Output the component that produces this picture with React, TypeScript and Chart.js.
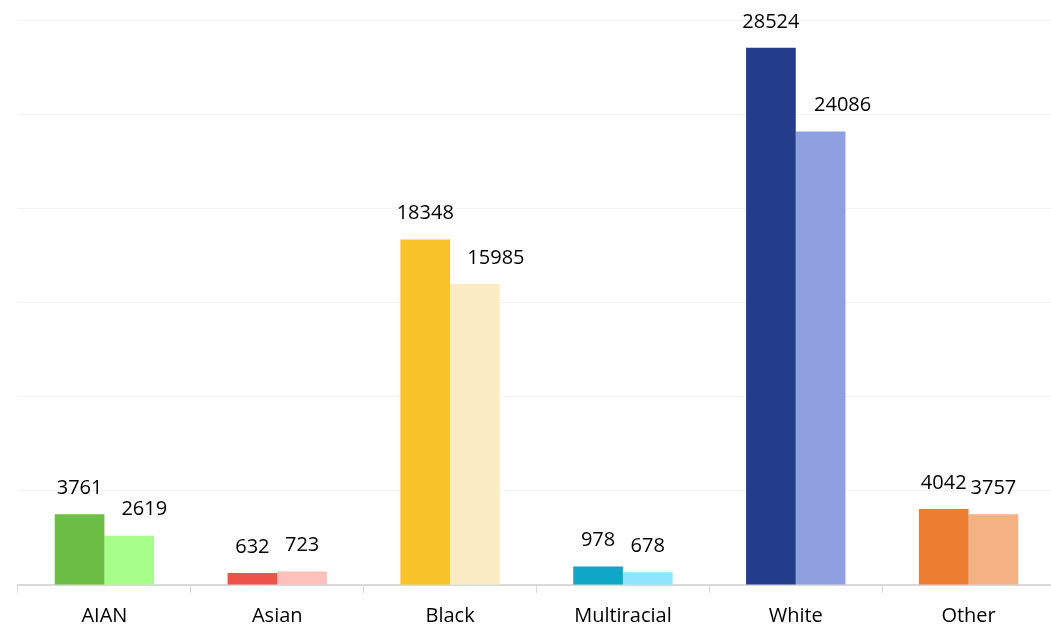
import React, { useEffect, useRef } from "react";
import { Chart, registerables } from "chart.js";

Chart.register(...registerables);

const categories = ["AIAN", "Asian", "Black", "Multiracial", "White", "Other"];
const seriesA = [3761, 632, 18348, 978, 28524, 4042];
const seriesB = [2619, 723, 15985, 678, 24086, 3757];
const colorsA = ["#6DBE45", "#EE5348", "#F8C22B", "#0FA6C8", "#243C8C", "#ED7D31"];
const colorsB = ["#A6FF88", "#FFC0BB", "#FCECC4", "#8FE5FF", "#8EA0E0", "#F4B183"];
const yMax = 30000;
const yStep = 5000;

// horizontal nudges of the second series' value labels (as placed in the original)
const labelShiftA = [0, 0, 0, 0, 0, 0];
const labelShiftB = [15, 0, 21, 0, 22, 0];

const FONT = "'Open Sans', sans-serif";

const labelPlugin = {
  id: "barLabels",
  afterDatasetsDraw(chart: any) {
    const ctx = chart.ctx;
    ctx.save();
    ctx.fillStyle = "#000";
    ctx.font = `20px ${FONT}`;
    ctx.textAlign = "center";
    ctx.textBaseline = "middle";
    const shifts = [labelShiftA, labelShiftB];
    chart.data.datasets.forEach((ds: any, di: number) => {
      const meta = chart.getDatasetMeta(di);
      meta.data.forEach((bar: any, i: number) => {
        ctx.fillText(String(ds.data[i]), bar.x + shifts[di][i], bar.y - 26);
      });
    });
    ctx.restore();
  },
};

export default function App() {
  const ref = useRef<HTMLCanvasElement>(null);
  useEffect(() => {
    document.body.style.margin = "0";
    const chart = new Chart(ref.current!, {
      type: "bar",
      data: {
        labels: categories,
        datasets: [
          { label: "A", data: seriesA, backgroundColor: colorsA, categoryPercentage: 0.575, barPercentage: 1 },
          { label: "B", data: seriesB, backgroundColor: colorsB, categoryPercentage: 0.575, barPercentage: 1 },
        ],
      },
      options: {
        animation: false,
        responsive: false,
        maintainAspectRatio: false,
        layout: { padding: { left: 18, right: 0, top: 20, bottom: 0 } },
        plugins: { legend: { display: false }, tooltip: { enabled: false } },
        scales: {
          x: {
            grid: { display: true, drawOnChartArea: false, tickLength: 8, color: "#d9d9d9", offset: true },
            border: { display: true, color: "#d9d9d9", width: 2 },
            ticks: { color: "#000", font: { size: 20, family: FONT }, padding: 11, maxRotation: 0 },
            afterFit: (scale: any) => {
              scale.height = 43;
            },
          },
          y: {
            display: true,
            min: 0,
            max: yMax,
            ticks: { display: false, stepSize: yStep },
            grid: { color: "#f3f3f3", drawTicks: false },
            border: { display: false },
          },
        },
      },
      plugins: [labelPlugin],
    });
    return () => chart.destroy();
  }, []);
  return (
    <div style={{ position: "absolute", left: 0, top: 0, width: 1051, height: 628, overflow: "hidden" }}>
      <canvas ref={ref} width={1055} height={628} style={{ display: "block" }} />
    </div>
  );
}
